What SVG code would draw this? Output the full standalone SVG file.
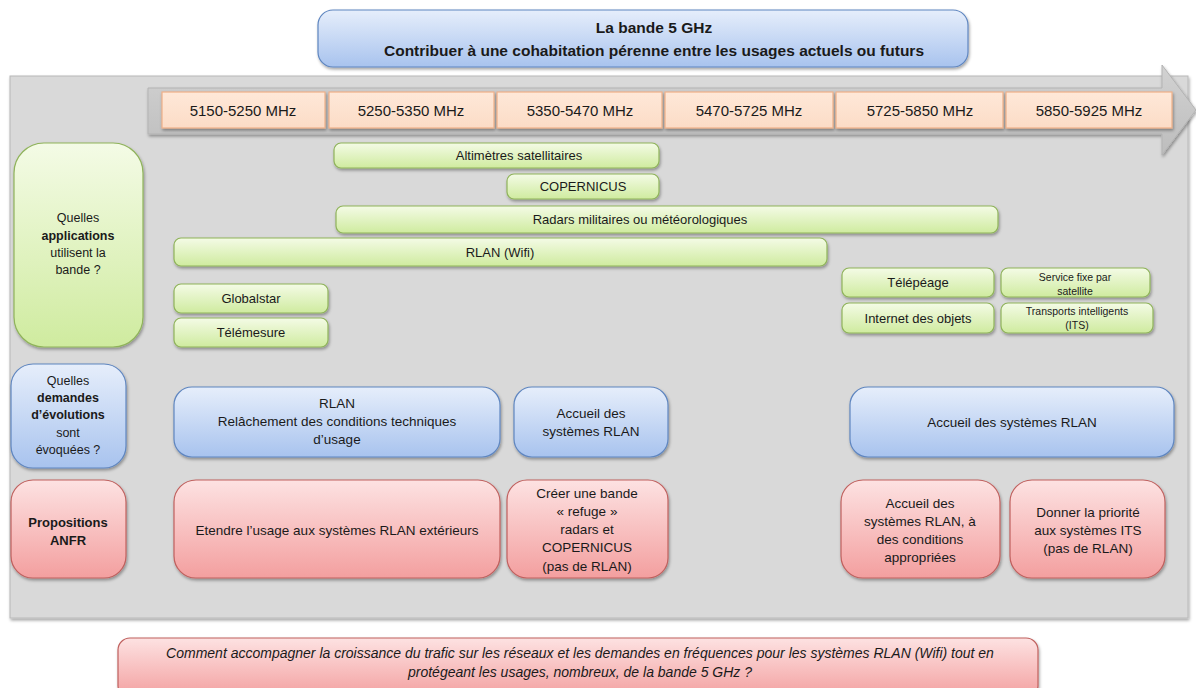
<svg xmlns="http://www.w3.org/2000/svg" width="1196" height="688" viewBox="0 0 1196 688">
<defs>
<linearGradient id="gBlue" x1="0" y1="0" x2="0" y2="1"><stop offset="0" stop-color="#e6eefb"/><stop offset="1" stop-color="#a8c3ee"/></linearGradient>
<linearGradient id="gGreen" x1="0" y1="0" x2="0" y2="1"><stop offset="0" stop-color="#f4fbe6"/><stop offset="1" stop-color="#cfeb9f"/></linearGradient>
<linearGradient id="gRed" x1="0" y1="0" x2="0" y2="1"><stop offset="0" stop-color="#fde2e2"/><stop offset="1" stop-color="#f39f9f"/></linearGradient>
<linearGradient id="gPeach" x1="0" y1="0" x2="0" y2="1"><stop offset="0" stop-color="#fee8d8"/><stop offset="1" stop-color="#fcdcc6"/></linearGradient>
<linearGradient id="gArrow" x1="0" y1="0" x2="0" y2="1"><stop offset="0" stop-color="#d2d2d2"/><stop offset="1" stop-color="#bdbdbd"/></linearGradient>
<filter id="sh" x="-10%" y="-20%" width="120%" height="150%"><feDropShadow dx="1" dy="2" stdDeviation="1.5" flood-color="#000" flood-opacity="0.35"/></filter>
</defs>
<style>
text{font-family:"Liberation Sans",Arial,sans-serif;font-size:13px;fill:#1a1a1a;text-anchor:middle;dominant-baseline:central}
.l{font-size:12.5px}
.b{font-weight:bold}
.t{font-size:15.5px;font-weight:bold}
.f{font-size:15px}
.m{font-size:13.5px}
.s{font-size:10.5px}
.i{font-style:italic;font-size:14px}
.blue{fill:url(#gBlue);stroke:#5f86c0;stroke-width:1.2;filter:url(#sh)}
.green{fill:url(#gGreen);stroke:#8fb35a;stroke-width:1.2;filter:url(#sh)}
.red{fill:url(#gRed);stroke:#c0605e;stroke-width:1.2;filter:url(#sh)}
.peach{fill:url(#gPeach);stroke:#efb088;stroke-width:1.2;filter:url(#sh)}
</style>
<rect width="1196" height="688" fill="#ffffff"/>

<g id="title">
<rect class="blue" x="318" y="10" width="650" height="57" rx="15"/>
<text class="t" x="654" y="27">La bande 5 GHz</text>
<text class="t" x="654" y="50">Contribuer à une cohabitation pérenne entre les usages actuels ou futurs</text>
</g>

<g id="panel">
<rect x="10" y="76" width="1178" height="542" fill="#d9d9d9" stroke="#b8b8b8" stroke-width="1" filter="url(#sh)"/>
</g>

<g id="timeline">
<polygon points="148,88 1162,88 1162,65 1196,110 1162,155 1162,134 148,134" fill="url(#gArrow)" stroke="#b3b3b3" stroke-width="1" filter="url(#sh)"/>
</g>

<g id="f1"><rect class="peach" x="162" y="92" width="163" height="36"/><text class="f" x="243" y="110">5150-5250 MHz</text></g>
<g id="f2"><rect class="peach" x="329" y="92" width="165" height="36"/><text class="f" x="411" y="110">5250-5350 MHz</text></g>
<g id="f3"><rect class="peach" x="497" y="92" width="165" height="36"/><text class="f" x="580" y="110">5350-5470 MHz</text></g>
<g id="f4"><rect class="peach" x="665" y="92" width="168" height="36"/><text class="f" x="749" y="110">5470-5725 MHz</text></g>
<g id="f5"><rect class="peach" x="836" y="92" width="167" height="36"/><text class="f" x="920" y="110">5725-5850 MHz</text></g>
<g id="f6"><rect class="peach" x="1006" y="92" width="166" height="36"/><text class="f" x="1089" y="110">5850-5925 MHz</text></g>

<g id="q-applications">
<rect class="green" x="14" y="143" width="129" height="204" rx="30"/>
<text class="l" x="78" y="218">Quelles</text>
<text class="l b" x="78" y="236">applications</text>
<text class="l" x="78" y="253">utilisent la</text>
<text class="l" x="78" y="270">bande ?</text>
</g>

<g id="altimetres"><rect class="green" x="334" y="143" width="325" height="25" rx="7"/><text x="519" y="155.5">Altimètres satellitaires</text></g>
<g id="copernicus"><rect class="green" x="507" y="174" width="152" height="25" rx="7"/><text x="583" y="186.5">COPERNICUS</text></g>
<g id="radars"><rect class="green" x="336" y="206" width="662" height="27" rx="7"/><text x="640" y="219.5">Radars militaires ou météorologiques</text></g>
<g id="rlan-wifi"><rect class="green" x="174" y="238" width="653" height="28" rx="7"/><text x="500" y="252">RLAN (Wifi)</text></g>
<g id="globalstar"><rect class="green" x="174" y="284" width="154" height="29" rx="7"/><text x="251" y="298.5">Globalstar</text></g>
<g id="telemesure"><rect class="green" x="174" y="318" width="154" height="29" rx="7"/><text x="251" y="332.5">Télémesure</text></g>
<g id="telepeage"><rect class="green" x="842" y="268" width="152" height="29" rx="7"/><text x="918" y="282.5">Télépéage</text></g>
<g id="sfs"><rect class="green" x="1001" y="268" width="149" height="29" rx="7"/><text class="s" x="1075" y="277">Service fixe par</text><text class="s" x="1075" y="291">satellite</text></g>
<g id="iot"><rect class="green" x="842" y="303" width="152" height="30" rx="7"/><text x="918" y="318">Internet des objets</text></g>
<g id="its"><rect class="green" x="1001" y="303" width="152" height="30" rx="7"/><text class="s" x="1077" y="311">Transports intelligents</text><text class="s" x="1077" y="325">(ITS)</text></g>

<g id="q-demandes">
<rect class="blue" x="11" y="364" width="115" height="104" rx="22"/>
<text class="l" x="68" y="381">Quelles</text>
<text class="l b" x="68" y="398">demandes</text>
<text class="l b" x="68" y="415">d’évolutions</text>
<text class="l" x="68" y="433">sont</text>
<text class="l" x="68" y="450">évoquées ?</text>
</g>

<g id="d-rlan"><rect class="blue" x="174" y="387" width="326" height="70" rx="18"/>
<text class="m" x="337" y="403">RLAN</text><text class="m" x="337" y="421">Relâchement  des conditions techniques</text><text class="m" x="337" y="439">d’usage</text></g>
<g id="d-accueil1"><rect class="blue" x="514" y="387" width="154" height="70" rx="18"/>
<text class="m" x="591" y="413">Accueil des</text><text class="m" x="591" y="431">systèmes RLAN</text></g>
<g id="d-accueil2"><rect class="blue" x="850" y="387" width="324" height="70" rx="18"/>
<text class="m" x="1012" y="422">Accueil des systèmes RLAN</text></g>

<g id="q-propositions">
<rect class="red" x="11" y="480" width="115" height="98" rx="22"/>
<text class="b" x="68" y="522">Propositions</text>
<text class="b" x="68" y="540">ANFR</text>
</g>

<g id="p-etendre"><rect class="red" x="174" y="480" width="326" height="98" rx="22"/>
<text class="m" x="337" y="530">Etendre l’usage aux systèmes RLAN extérieurs</text></g>
<g id="p-refuge"><rect class="red" x="507" y="480" width="161" height="98" rx="20"/>
<text class="m" x="587" y="493">Créer une bande</text><text class="m" x="587" y="511">« refuge »</text><text class="m" x="587" y="529">radars et</text><text class="m" x="587" y="547">COPERNICUS</text><text class="m" x="587" y="566">(pas de RLAN)</text></g>
<g id="p-accueil"><rect class="red" x="841" y="480" width="159" height="98" rx="22"/>
<text class="m" x="920" y="503">Accueil des</text><text class="m" x="920" y="521">systèmes RLAN, à</text><text class="m" x="920" y="539">des conditions</text><text class="m" x="920" y="557">appropriées</text></g>
<g id="p-its"><rect class="red" x="1010" y="480" width="155" height="98" rx="22"/>
<text class="m" x="1088" y="512">Donner la priorité</text><text class="m" x="1088" y="530">aux systèmes ITS</text><text class="m" x="1088" y="548">(pas de RLAN)</text></g>

<g id="question">
<rect class="red" x="118" y="638" width="920" height="60" rx="12"/>
<text class="i" x="580" y="653">Comment accompagner la croissance du trafic sur les réseaux et les demandes en fréquences pour les systèmes RLAN (Wifi) tout en</text>
<text class="i" x="580" y="672">protégeant les usages, nombreux, de la bande 5 GHz ?</text>
</g>

<g id="connectors"/>
</svg>
